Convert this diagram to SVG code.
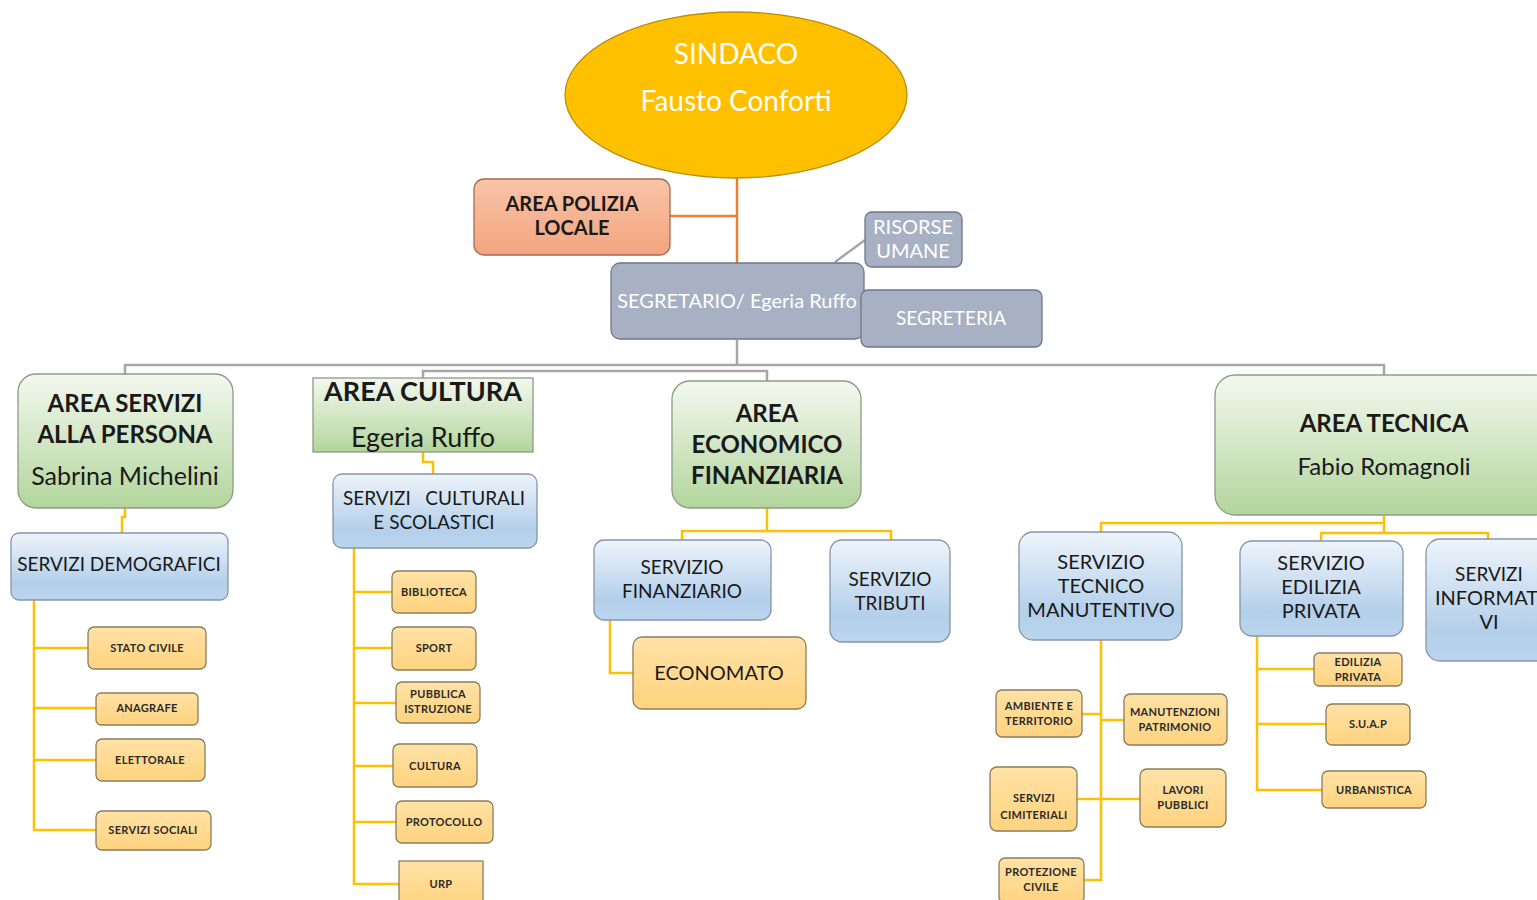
<svg xmlns="http://www.w3.org/2000/svg" width="1537" height="900" viewBox="0 0 1537 900">
<defs>
<linearGradient id="gGreen" x1="0" y1="0" x2="0" y2="1"><stop offset="0" stop-color="#f3f8ef"/><stop offset="1" stop-color="#b3d59c"/></linearGradient>
<linearGradient id="gBlue" x1="0" y1="0" x2="0" y2="1"><stop offset="0" stop-color="#eef4fb"/><stop offset="0.75" stop-color="#b3cfea"/><stop offset="1" stop-color="#bcd5ee"/></linearGradient>
<linearGradient id="gOr" x1="0" y1="0" x2="0" y2="1"><stop offset="0" stop-color="#ffe2a6"/><stop offset="1" stop-color="#ffd37f"/></linearGradient>
<linearGradient id="gSal" x1="0" y1="0" x2="0" y2="1"><stop offset="0" stop-color="#f8c4a8"/><stop offset="1" stop-color="#f3a47e"/></linearGradient>
</defs>
<style>
.t{font-family:Lato,"Open Sans","Liberation Sans",sans-serif;text-anchor:middle;fill:#1a1a1a}
.w{fill:#ffffff}
.b{font-weight:bold}
.green{fill:url(#gGreen);stroke:#8c9c86;stroke-width:1.3}
.blue{fill:url(#gBlue);stroke:#8695a8;stroke-width:1.3}
.or{fill:url(#gOr);stroke:#8a7d5c;stroke-width:1.3}
.gray{fill:#a8b1c4;stroke:#6f7687;stroke-width:1.3}
.sm{font-size:11px;font-weight:bold;fill:#2a2a2a;letter-spacing:0.3px}
.y{fill:none;stroke:#ffc000;stroke-width:2.5}
.gl{fill:none;stroke:#a6a6a6;stroke-width:2.5}
.ol{fill:none;stroke:#ed7d31;stroke-width:2.5}
</style>
<g id="connectors">
<path class="ol" d="M737,178 V263 M670,216 H737"/>
<path class="gl" d="M835,262 L865,240"/>
<path class="gl" d="M737,340 V365 M125,374 V365 H1384 V375"/>
<path class="gl" d="M423,378 V371 H767 V381"/>
<path class="y" d="M125,508 V517 H122 V533"/>
<path class="y" d="M34,600 V830 H96 M34,648 H88 M34,708 H96 M34,760 H96"/>
<path class="y" d="M423,452 V462 H433 V474"/>
<path class="y" d="M354,548 V884 H399 M354,592 H392 M354,648 H392 M354,703 H396 M354,766 H393 M354,822 H396"/>
<path class="y" d="M767,508 V531 H682 V540 M767,531 H891 V540"/>
<path class="y" d="M610,620 V673 H633"/>
<path class="y" d="M1384,515 V523 H1101 V532 M1384,523 V533 H1321 V541 M1384,533 H1488 V539"/>
<path class="y" d="M1101,640 V880 H1084 M1082,714 H1101 M1101,720 H1124 M1077,799 H1140"/>
<path class="y" d="M1257,636 V790 H1322 M1257,669 H1314 M1257,724 H1326"/>
</g>
<g id="sindaco">
<ellipse cx="736" cy="95" rx="171" ry="83" fill="#ffc000" stroke="#b8900c" stroke-width="1.3"/>
<text class="t w" x="736" y="64" font-size="28">SINDACO</text>
<text class="t w" x="736" y="111" font-size="28">Fausto Conforti</text>
</g>
<g id="polizia">
<rect x="474" y="179" width="196" height="76" rx="10" fill="url(#gSal)" stroke="#a66a50" stroke-width="1.3"/>
<text class="t b" x="572" y="211" font-size="20">AREA POLIZIA</text>
<text class="t b" x="572" y="235" font-size="20">LOCALE</text>
</g>
<g id="risorse">
<rect class="gray" x="865" y="212" width="97" height="55" rx="7"/>
<text class="t w" x="913" y="234" font-size="20">RISORSE</text>
<text class="t w" x="913" y="258" font-size="20">UMANE</text>
</g>
<g id="segretario">
<rect class="gray" x="611" y="263" width="253" height="76" rx="9"/>
<text class="t w" x="737" y="308" font-size="20">SEGRETARIO/ Egeria Ruffo</text>
</g>
<g id="segreteria">
<rect class="gray" x="861" y="290" width="181" height="57" rx="7"/>
<text class="t w" x="951" y="325" font-size="19">SEGRETERIA</text>
</g>
<g id="area-persona">
<rect class="green" x="18" y="374" width="215" height="134" rx="18"/>
<text class="t b" x="125" y="412" font-size="24">AREA SERVIZI</text>
<text class="t b" x="125" y="443" font-size="24">ALLA PERSONA</text>
<text class="t" x="125" y="485" font-size="25">Sabrina Michelini</text>
</g>
<g id="area-cultura">
<rect class="green" x="313" y="378" width="220" height="74"/>
<text class="t b" x="423" y="401" font-size="27">AREA CULTURA</text>
<text class="t" x="423" y="447" font-size="27">Egeria Ruffo</text>
</g>
<g id="area-economico">
<rect class="green" x="672" y="381" width="189" height="127" rx="18"/>
<text class="t b" x="767" y="422" font-size="24">AREA</text>
<text class="t b" x="767" y="453" font-size="24">ECONOMICO</text>
<text class="t b" x="767" y="484" font-size="24">FINANZIARIA</text>
</g>
<g id="area-tecnica">
<rect class="green" x="1215" y="375" width="340" height="140" rx="20"/>
<text class="t b" x="1384" y="432" font-size="24">AREA TECNICA</text>
<text class="t" x="1384" y="475" font-size="24">Fabio Romagnoli</text>
</g>
<g id="demografici">
<rect class="blue" x="11" y="533" width="217" height="67" rx="8"/>
<text class="t" x="119" y="571" font-size="19">SERVIZI DEMOGRAFICI</text>
</g>
<g id="stato-civile"><rect class="or" x="88" y="627" width="118" height="42" rx="6"/><text class="t sm" x="147" y="652">STATO CIVILE</text></g>
<g id="anagrafe"><rect class="or" x="96" y="693" width="102" height="32" rx="5"/><text class="t sm" x="147" y="712">ANAGRAFE</text></g>
<g id="elettorale"><rect class="or" x="96" y="739" width="109" height="42" rx="6"/><text class="t sm" x="150" y="764">ELETTORALE</text></g>
<g id="servizi-sociali"><rect class="or" x="96" y="811" width="115" height="39" rx="6"/><text class="t sm" x="153" y="834">SERVIZI SOCIALI</text></g>
<g id="culturali">
<rect class="blue" x="333" y="474" width="204" height="74" rx="9"/>
<text class="t" x="434" y="505" font-size="19" xml:space="preserve">SERVIZI   CULTURALI</text>
<text class="t" x="434" y="529" font-size="19">E SCOLASTICI</text>
</g>
<g id="biblioteca"><rect class="or" x="392" y="571" width="84" height="42" rx="6"/><text class="t sm" x="434" y="596">BIBLIOTECA</text></g>
<g id="sport"><rect class="or" x="392" y="627" width="84" height="43" rx="6"/><text class="t sm" x="434" y="652">SPORT</text></g>
<g id="pubblica-istruzione"><rect class="or" x="396" y="682" width="84" height="41" rx="6"/><text class="t sm" x="438" y="698">PUBBLICA</text><text class="t sm" x="438" y="713">ISTRUZIONE</text></g>
<g id="cultura"><rect class="or" x="393" y="744" width="84" height="43" rx="6"/><text class="t sm" x="435" y="770">CULTURA</text></g>
<g id="protocollo"><rect class="or" x="396" y="801" width="97" height="42" rx="6"/><text class="t sm" x="444" y="826">PROTOCOLLO</text></g>
<g id="urp"><rect class="or" x="399" y="861" width="84" height="45"/><text class="t sm" x="441" y="888">URP</text></g>
<g id="finanziario">
<rect class="blue" x="594" y="540" width="177" height="80" rx="10"/>
<text class="t" x="682" y="574" font-size="19">SERVIZIO</text>
<text class="t" x="682" y="598" font-size="19">FINANZIARIO</text>
</g>
<g id="tributi">
<rect class="blue" x="830" y="540" width="120" height="102" rx="12"/>
<text class="t" x="890" y="586" font-size="19">SERVIZIO</text>
<text class="t" x="890" y="610" font-size="19">TRIBUTI</text>
</g>
<g id="economato">
<rect class="or" x="633" y="637" width="173" height="72" rx="9"/>
<text class="t" x="719" y="680" font-size="20">ECONOMATO</text>
</g>
<g id="tecnico-manutentivo">
<rect class="blue" x="1019" y="532" width="163" height="108" rx="14"/>
<text class="t" x="1101" y="569" font-size="20">SERVIZIO</text>
<text class="t" x="1101" y="593" font-size="20">TECNICO</text>
<text class="t" x="1101" y="617" font-size="20">MANUTENTIVO</text>
</g>
<g id="edilizia-privata-serv">
<rect class="blue" x="1240" y="541" width="163" height="95" rx="12"/>
<text class="t" x="1321" y="570" font-size="20">SERVIZIO</text>
<text class="t" x="1321" y="594" font-size="20">EDILIZIA</text>
<text class="t" x="1321" y="618" font-size="20">PRIVATA</text>
</g>
<g id="informativi">
<rect class="blue" x="1426" y="539" width="130" height="122" rx="14"/>
<text class="t" x="1489" y="581" font-size="19">SERVIZI</text>
<text class="t" x="1435" y="605" font-size="20" style="text-anchor:start">INFORMAT</text>
<text class="t" x="1489" y="629" font-size="20">VI</text>
</g>
<g id="ambiente"><rect class="or" x="996" y="690" width="86" height="47" rx="6"/><text class="t sm" x="1039" y="710">AMBIENTE  E</text><text class="t sm" x="1039" y="725">TERRITORIO</text></g>
<g id="manutenzioni"><rect class="or" x="1124" y="694" width="103" height="51" rx="6"/><text class="t sm" x="1175" y="716">MANUTENZIONI</text><text class="t sm" x="1175" y="731">PATRIMONIO</text></g>
<g id="cimiteriali"><rect class="or" x="990" y="767" width="87" height="64" rx="7"/><text class="t sm" x="1034" y="802">SERVIZI</text><text class="t sm" x="1034" y="819">CIMITERIALI</text></g>
<g id="lavori-pubblici"><rect class="or" x="1140" y="769" width="86" height="58" rx="7"/><text class="t sm" x="1183" y="794">LAVORI</text><text class="t sm" x="1183" y="809">PUBBLICI</text></g>
<g id="protezione-civile"><rect class="or" x="999" y="858" width="85" height="45" rx="6"/><text class="t sm" x="1041" y="876">PROTEZIONE</text><text class="t sm" x="1041" y="891">CIVILE</text></g>
<g id="edilizia-privata"><rect class="or" x="1314" y="653" width="88" height="33" rx="5"/><text class="t sm" x="1358" y="666">EDILIZIA</text><text class="t sm" x="1358" y="681">PRIVATA</text></g>
<g id="suap"><rect class="or" x="1326" y="704" width="84" height="41" rx="6"/><text class="t sm" x="1368" y="728">S.U.A.P</text></g>
<g id="urbanistica"><rect class="or" x="1322" y="771" width="104" height="37" rx="6"/><text class="t sm" x="1374" y="794">URBANISTICA</text></g>
</svg>
